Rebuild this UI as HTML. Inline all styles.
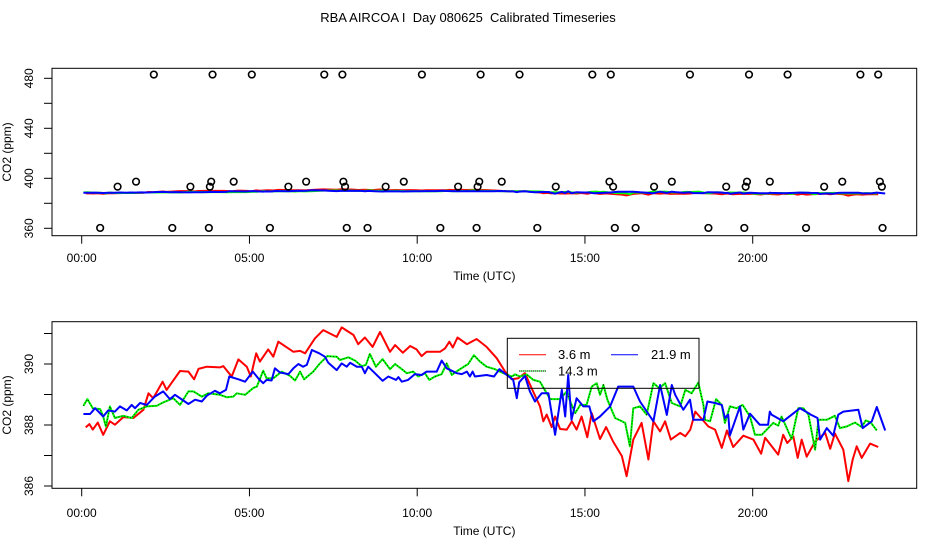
<!DOCTYPE html>
<html><head><meta charset="utf-8">
<style>
html,body{margin:0;padding:0;background:#fff;}
svg{display:block;font-family:"Liberation Sans",sans-serif;}
</style></head>
<body>
<svg id="chart" width="936" height="540" viewBox="0 0 936 540" xmlns="http://www.w3.org/2000/svg">
<rect x="0" y="0" width="936" height="540" fill="#fff"/>
<text x="468" y="22" font-size="13" text-anchor="middle" xml:space="preserve">RBA AIRCOA I  Day 080625  Calibrated Timeseries</text>
<g id="topPanel"></g>
<g id="botPanel"></g>
</svg>
<script>
const xTickHours=[0,5,10,15,20];
const xTickLabels=["00:00","05:00","10:00","15:00","20:00"];
const topYTicks=[360,380,400,420,440,460,480];
const topYLabels=["360","","400","","440","","480"];
const botYTicks=[386,387,388,389,390,391];
const botYLabels=["386","","388","","390",""];
const seriesNames=["3.6 m","14.3 m","21.9 m"];
const redT=[0.12,0.23,0.33,0.48,0.64,0.84,0.99,1.24,1.54,1.84,1.99,2.13,2.41,2.53,2.93,3.18,3.35,3.48,3.73,4.12,4.22,4.47,4.67,4.92,5.04,5.20,5.31,5.56,5.71,5.86,6.31,6.51,6.66,6.95,7.20,7.60,7.75,8.10,8.24,8.44,8.67,8.89,9.19,9.34,9.57,9.79,9.98,10.13,10.28,10.68,10.83,10.96,11.06,11.20,11.48,11.77,12.07,12.37,12.62,12.82,13.01,13.21,13.41,13.66,13.76,13.86,14.01,14.11,14.26,14.46,14.61,14.75,14.90,15.07,15.20,15.45,15.63,15.84,16.10,16.24,16.44,16.69,16.89,17.04,17.24,17.39,17.56,17.84,17.99,18.14,18.29,18.48,18.68,18.88,19.08,19.23,19.42,19.72,20.02,20.25,20.37,20.76,20.91,21.03,21.21,21.34,21.46,21.61,21.86,22.16,22.31,22.45,22.70,22.85,22.98,23.10,23.25,23.50,23.74];
const redV=[387.92,388.03,387.85,388.08,387.68,388.12,388.01,388.26,388.23,388.50,389.04,388.88,389.42,389.15,389.77,389.75,389.50,389.84,389.91,389.89,389.93,389.59,390.15,389.91,389.59,390.35,390.08,390.48,390.24,390.73,390.40,390.43,390.35,390.84,391.11,390.89,391.20,390.95,390.65,390.87,390.56,391.05,390.40,390.62,390.37,390.59,390.48,390.26,390.40,390.40,390.51,390.73,390.54,390.87,390.65,390.82,390.56,390.19,389.75,389.50,389.53,389.70,389.21,388.61,388.12,388.34,387.93,388.28,387.87,387.85,388.12,387.85,388.28,387.60,388.39,387.54,387.93,387.46,386.98,386.32,387.52,388.07,386.87,388.12,387.79,388.12,387.52,387.74,387.63,387.85,388.44,388.20,387.95,387.85,387.25,387.82,387.28,387.65,387.52,387.06,387.58,387.03,387.68,387.41,387.63,386.92,387.52,386.96,387.46,387.74,387.22,387.72,387.19,386.16,386.87,387.30,386.92,387.39,387.28];
const greenT=[0.05,0.17,0.33,0.55,0.64,0.72,0.84,0.99,1.24,1.49,1.69,1.94,2.24,2.43,2.73,2.93,3.18,3.33,3.58,3.77,4.12,4.32,4.52,4.62,4.87,5.11,5.22,5.41,5.51,5.71,5.96,6.21,6.36,6.51,6.63,6.90,7.10,7.32,7.60,7.70,7.95,8.15,8.35,8.47,8.59,8.77,8.97,9.19,9.34,9.54,9.69,9.88,10.03,10.23,10.36,10.53,10.73,10.88,11.03,11.23,11.52,11.69,11.87,12.07,12.32,12.57,12.82,12.92,13.06,13.26,13.46,13.66,13.86,13.96,14.26,14.46,14.56,14.71,14.86,15.05,15.20,15.35,15.45,15.55,15.67,15.90,16.20,16.34,16.44,16.64,16.84,17.04,17.22,17.39,17.59,17.84,17.99,18.18,18.38,18.53,18.58,18.73,18.91,19.08,19.17,19.32,19.52,19.70,19.92,20.07,20.27,20.42,20.61,20.76,20.86,21.16,21.36,21.51,21.66,21.86,21.96,22.21,22.45,22.60,22.80,23.05,23.25,23.37,23.52,23.70];
const greenV=[388.63,388.85,388.55,388.52,388.28,387.95,388.61,388.23,388.30,388.23,388.50,388.61,388.63,388.74,388.88,388.66,389.10,389.10,388.93,389.04,388.99,388.91,388.93,389.04,388.99,389.21,389.26,389.78,389.53,389.53,389.75,389.61,389.46,389.75,389.50,389.75,390.02,390.26,390.24,390.13,390.22,390.11,389.93,389.97,390.33,389.91,390.16,389.83,390.00,389.83,389.70,389.75,389.59,389.70,389.48,389.59,389.67,390.02,389.64,389.80,390.00,390.29,390.08,389.91,389.83,389.70,389.59,389.66,389.59,389.66,389.48,389.42,389.04,388.85,388.85,389.10,388.77,388.39,388.66,388.66,389.26,389.37,388.99,389.31,388.83,388.23,388.07,387.30,388.55,388.61,388.34,389.37,389.21,389.37,388.72,388.61,389.15,389.04,389.39,388.66,388.17,388.12,388.85,388.66,388.07,388.61,388.55,388.66,388.28,387.68,387.68,387.85,388.07,387.98,388.28,387.54,388.55,388.55,388.34,387.19,388.17,388.17,388.30,387.90,387.95,388.08,387.93,388.15,388.08,387.82];
const blueT=[0.05,0.25,0.40,0.64,0.79,0.99,1.14,1.34,1.49,1.59,1.74,1.94,2.18,2.43,2.63,2.78,3.18,3.38,3.58,3.73,3.97,4.12,4.30,4.40,4.67,4.87,5.10,5.26,5.41,5.51,5.66,5.76,5.91,6.16,6.31,6.46,6.60,6.71,6.86,7.08,7.25,7.35,7.60,7.75,7.90,8.00,8.20,8.35,8.44,8.54,8.74,8.97,9.14,9.37,9.44,9.54,9.73,9.93,10.13,10.28,10.58,10.73,10.88,11.18,11.33,11.48,11.57,11.65,11.72,12.07,12.29,12.45,12.67,12.86,12.97,13.04,13.21,13.36,13.51,13.71,13.91,14.11,14.31,14.41,14.50,14.60,14.75,14.95,15.13,15.25,15.45,15.75,15.99,16.44,16.64,17.04,17.24,17.44,17.59,17.69,17.93,18.13,18.23,18.53,18.65,18.88,19.08,19.17,19.27,19.32,19.62,19.72,19.92,20.21,20.46,20.51,20.56,20.91,21.41,21.66,21.73,21.93,22.01,22.21,22.40,22.55,22.70,23.15,23.28,23.55,23.70,23.95];
const blueV=[388.36,388.36,388.55,388.28,388.48,388.44,388.61,388.48,388.66,388.55,388.72,388.66,388.93,389.10,388.85,388.99,388.69,388.83,388.77,388.96,389.12,389.04,389.15,389.59,389.50,389.42,389.75,389.53,389.37,389.48,389.46,389.86,389.72,389.67,389.86,390.00,389.91,389.97,390.46,390.35,390.24,390.04,389.80,390.02,389.91,390.04,389.91,389.91,389.70,389.91,389.70,389.45,389.59,389.48,389.57,389.42,389.48,389.67,389.64,389.75,389.75,390.11,389.86,389.70,389.67,389.75,389.59,389.75,389.59,389.64,389.59,389.83,389.64,389.48,388.88,389.40,389.61,389.10,388.77,389.04,389.04,387.68,389.15,388.28,389.64,388.17,388.88,388.61,388.61,388.12,388.28,388.61,389.26,389.26,388.77,388.12,389.31,388.33,389.31,388.99,388.50,388.83,388.17,388.17,388.77,388.72,388.66,388.23,388.34,387.66,388.61,387.85,388.37,388.01,388.01,388.44,388.34,388.12,388.55,388.39,388.34,388.23,387.52,387.90,387.65,388.34,388.44,388.50,387.90,388.12,388.59,387.82];
const flagHiT=[2.15,3.90,5.07,7.23,7.77,10.14,11.89,13.05,15.22,15.77,18.13,19.89,21.04,23.21,23.74];
const flagHiV=483;
const flagA_T=[1.62,3.86,4.53,6.69,7.80,9.60,11.85,12.52,15.73,17.59,19.83,20.51,22.67,23.79];
const flagA_V=397.3;
const flagB_T=[1.07,3.24,3.82,6.16,7.85,9.06,11.22,11.80,14.13,15.84,17.06,19.21,19.79,22.13,23.85];
const flagB_V=393.3;
const flagLoT=[0.55,2.70,3.79,5.61,7.90,8.52,10.69,11.77,13.58,15.89,16.51,18.68,19.75,21.59,23.87];
const flagLoV=360.3;

const NS="http://www.w3.org/2000/svg";
function mk(tag,attrs,parent){const e=document.createElementNS(NS,tag);for(const k in attrs)e.setAttribute(k,attrs[k]);parent.appendChild(e);return e;}
const xs=h=>81.7+33.55*h;
const yTop=v=>228.3-(v-360)*1.25;
const yBot=v=>364+(390-v)*30.5;
const GREEN='#00ff00';

function panel(g,box,ys,yTicks,yLabels,xLabelY,titleY,name){
  const r=mk('rect',{x:box.x,y:box.y,width:box.w,height:box.h,fill:'none',stroke:'#000','stroke-width':1},g);
  
  
  const by=box.y+box.h;
  xTickHours.forEach((h,i)=>{
    const t=mk('line',{x1:xs(h),x2:xs(h),y1:by,y2:by+8,stroke:'#000'},g);
    
    
    const tx=mk('text',{x:xs(h),y:xLabelY,'font-size':12,'text-anchor':'middle'},g);tx.textContent=xTickLabels[i];
    
    
  });
  yTicks.forEach((v,i)=>{
    const t=mk('line',{x1:box.x-8,x2:box.x,y1:ys(v),y2:ys(v),stroke:'#000'},g);
    
    
    if(yLabels[i]){
      const tx=mk('text',{x:0,y:0,'font-size':12,'text-anchor':'middle',transform:`translate(${box.x-19},${ys(v)}) rotate(-90)`},g);tx.textContent=yLabels[i];
      
      
    }
  });
  const xt=mk('text',{x:(box.x+box.x+box.w)/2,y:titleY,'font-size':12,'text-anchor':'middle'},g);xt.textContent='Time (UTC)';
  
  
  const yt=mk('text',{x:0,y:0,'font-size':12,'text-anchor':'middle',transform:`translate(11,${box.y+box.h/2}) rotate(-90)`},g);yt.textContent='CO2 (ppm)';
  
  
}
function series(g,T,V,ys,color,name,dotted){
  const d=T.map((t,i)=>(i?'L':'M')+xs(t).toFixed(1)+','+ys(V[i]).toFixed(1)).join('');
  const p=mk('path',{d:d,fill:'none',stroke:color,'stroke-width':2,'stroke-linejoin':'round'},g);
  
  
  if(dotted){const q=mk('path',{d:d,fill:'none',stroke:'#000','stroke-width':0.8,'stroke-dasharray':'1,2'},g);
    
    }
}
const topG=document.getElementById('topPanel');


panel(topG,{x:52,y:68.3,w:864.7,h:167.4},yTop,topYTicks,topYLabels,262,280,'top');
series(topG,redT,redV,yTop,'#f00','top-series-3-6m');
series(topG,greenT,greenV,yTop,GREEN,'top-series-14-3m');
series(topG,blueT,blueV,yTop,'#00f','top-series-21-9m');
function circles(T,v,name){T.forEach(t=>{const c=mk('circle',{cx:xs(t),cy:yTop(v),r:3.3,fill:'none',stroke:'#000','stroke-width':1.6},topG);
  
  });}
circles(flagHiT,flagHiV,'flag-point-high');circles(flagA_T,flagA_V,'flag-point-397');
circles(flagB_T,flagB_V,'flag-point-393');circles(flagLoT,flagLoV,'flag-point-low');

const botG=document.getElementById('botPanel');


panel(botG,{x:52,y:321.7,w:864.7,h:166.6},yBot,botYTicks,botYLabels,517,535,'bottom');
series(botG,redT,redV,yBot,'#f00','series-3-6m');
series(botG,greenT,greenV,yBot,GREEN,'series-14-3m',true);
series(botG,blueT,blueV,yBot,'#00f','series-21-9m');
const lg=mk('g',{},botG);


const lb=mk('rect',{x:507.3,y:338.3,width:191.7,height:50,fill:'none',stroke:'#000'},lg);


const ent=[[0,'#f00',519,354.7,558],[1,GREEN,519,371,558],[2,'#00f',611,354.7,651]];
ent.forEach(([i,c,x,y,tx])=>{
  const l=mk('line',{x1:x,x2:x+27,y1:y,y2:y,stroke:c,'stroke-width':1},lg);
  
  
  if(i===1){const d=mk('line',{x1:x,x2:x+27,y1:y,y2:y,stroke:'#000','stroke-width':1,'stroke-dasharray':'1,1'},lg);
    
    }
  const t=mk('text',{x:tx,y:y+4.5,'font-size':13},lg);t.textContent=seriesNames[i];
  
  
});
</script>
</body></html>
